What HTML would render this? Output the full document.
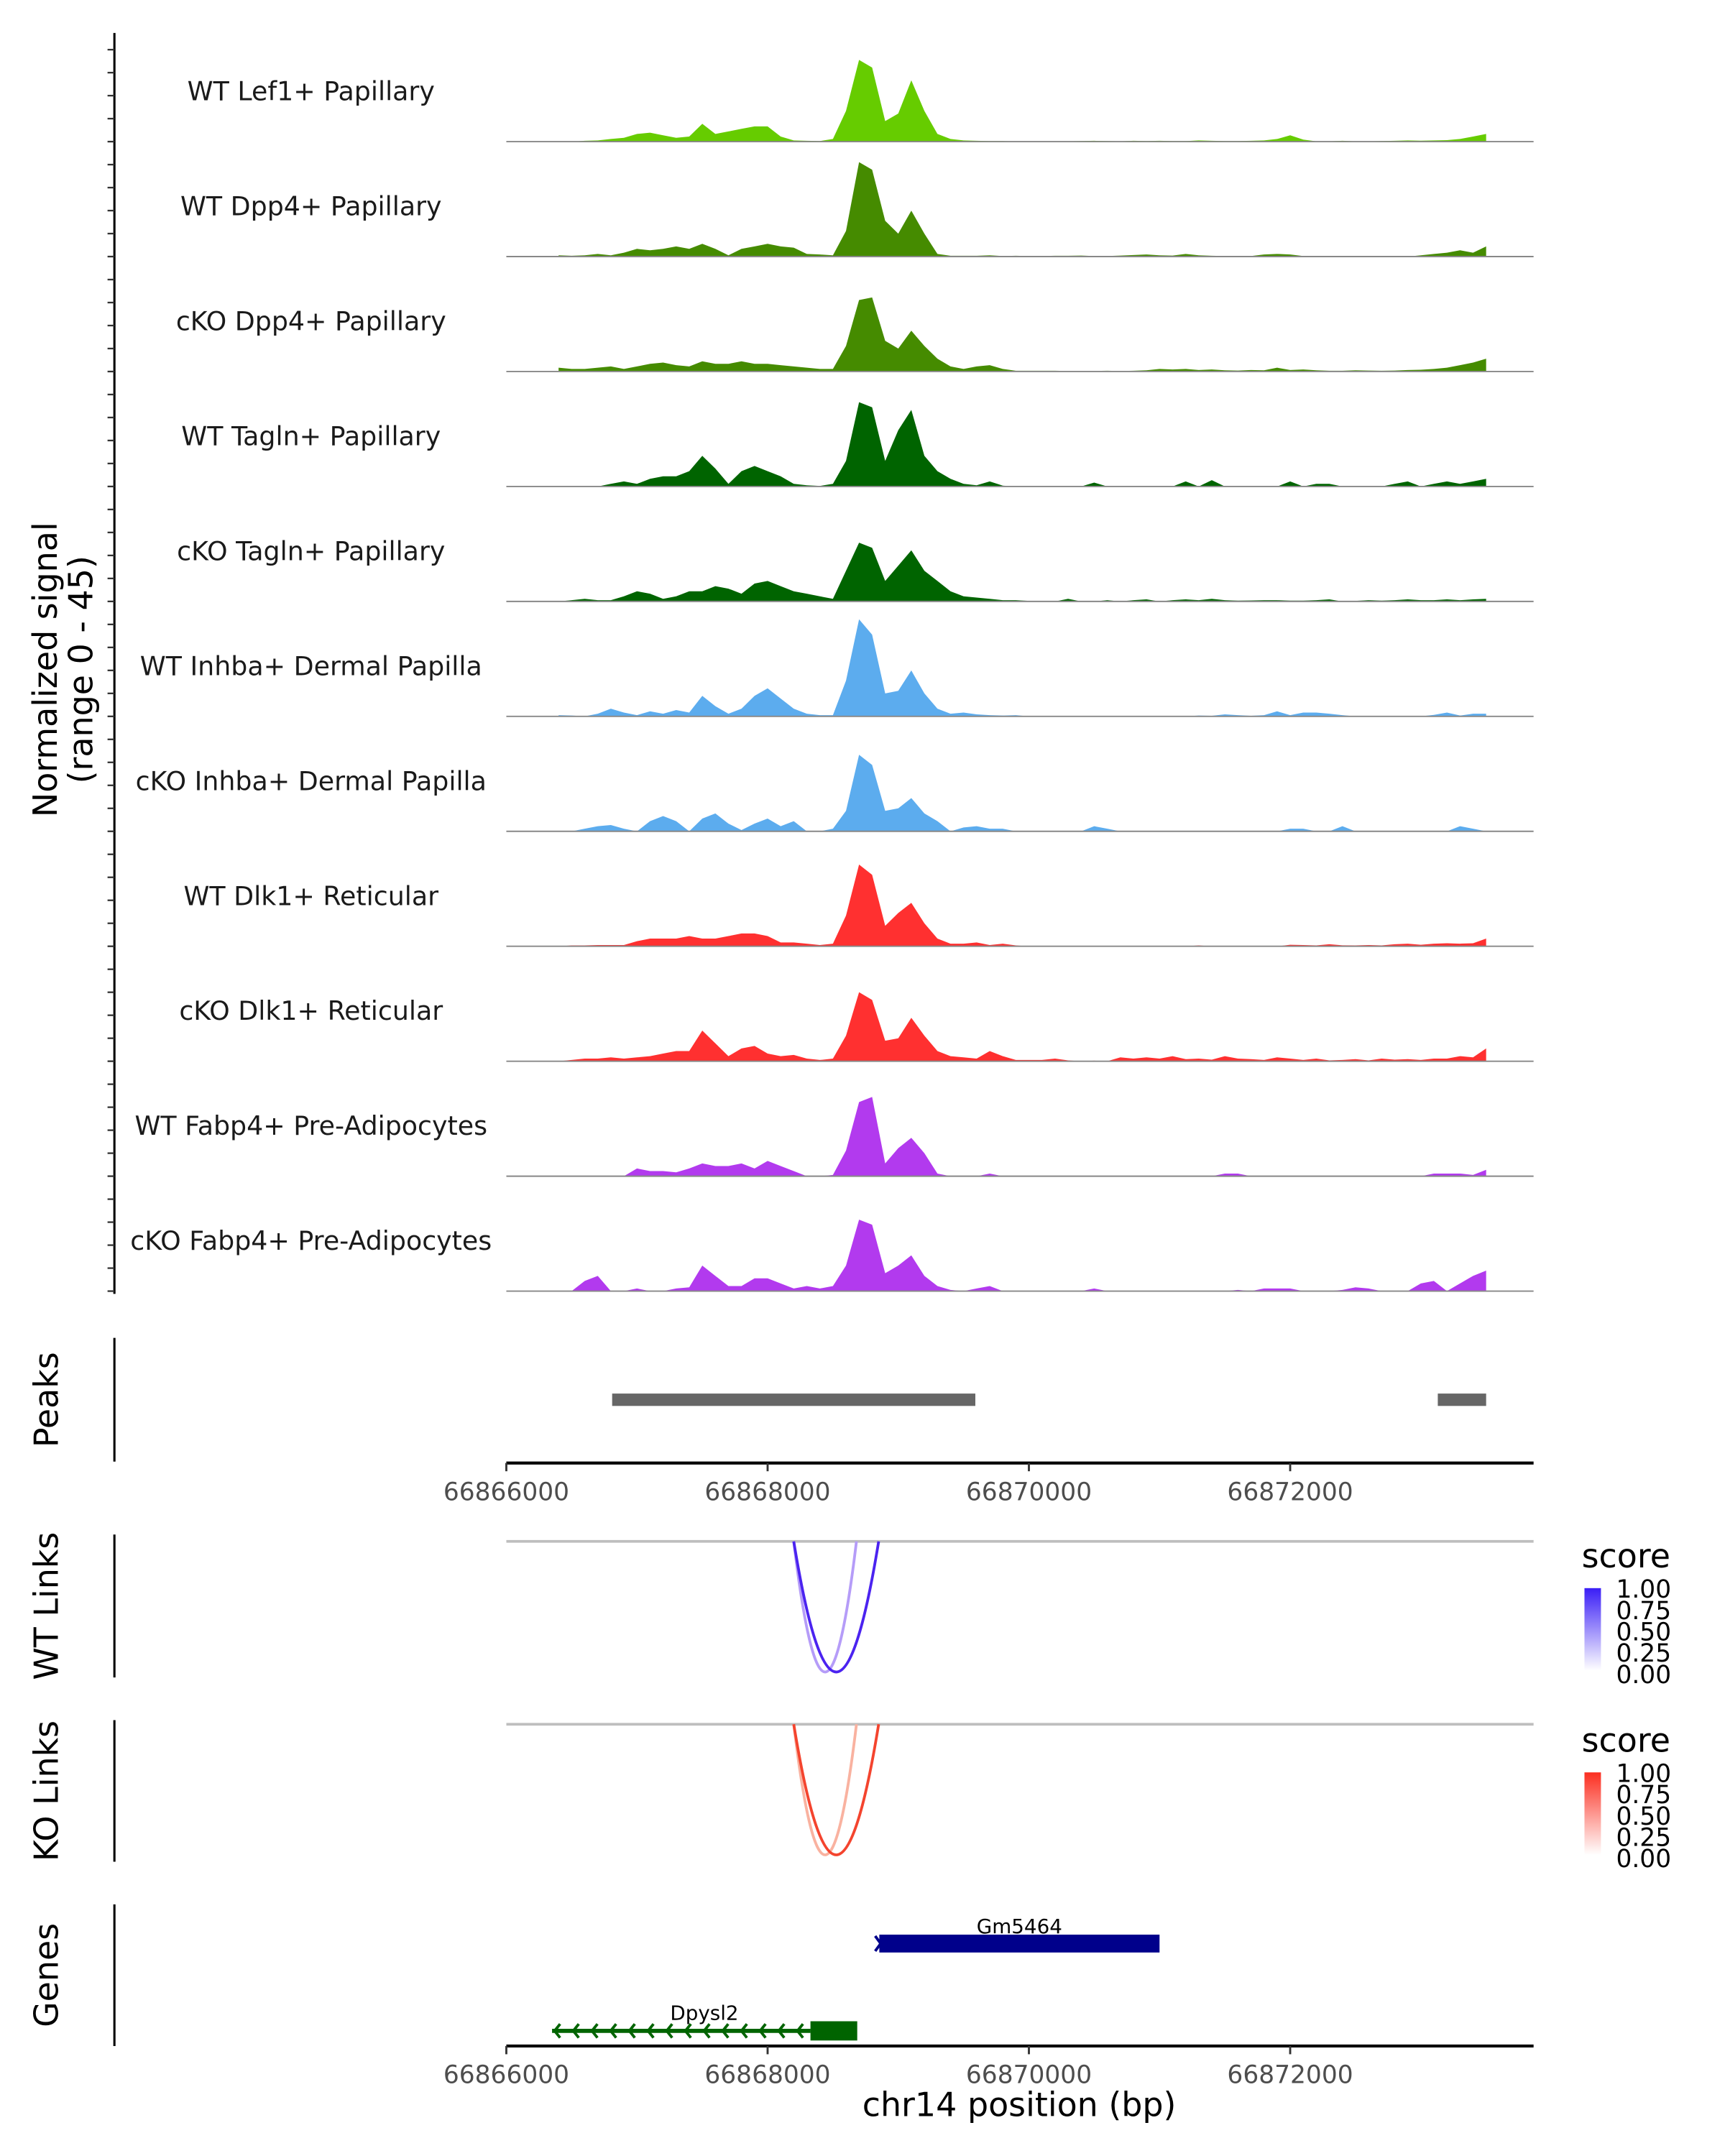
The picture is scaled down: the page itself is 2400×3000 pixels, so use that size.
<!DOCTYPE html>
<html><head><meta charset="utf-8"><style>
html,body{margin:0;padding:0;background:#fff;}
svg{display:block;font-family:"DejaVu Sans","Liberation Sans",sans-serif;}
</style></head><body>
<svg id="chart" width="2400" height="3000" viewBox="0 0 1254 1568" xmlns="http://www.w3.org/2000/svg">
<g id="tracks"></g>
<g id="overlay"></g>
</svg>
<script>
const trackNames = ["WT Lef1+ Papillary","WT Dpp4+ Papillary","cKO Dpp4+ Papillary","WT Tagln+ Papillary","cKO Tagln+ Papillary","WT Inhba+ Dermal Papilla","cKO Inhba+ Dermal Papilla","WT Dlk1+ Reticular","cKO Dlk1+ Reticular","WT Fabp4+ Pre-Adipocytes","cKO Fabp4+ Pre-Adipocytes"];
const trackColors = ["#66cc00","#458b00","#458b00","#006400","#006400","#5cacee","#5cacee","#ff3030","#ff3030","#b23aee","#b23aee"];
const binStart = 66866400;
const binSize = 100;
const sLef1WT = [0,0,0.3,0.5,1,1.5, 3,3.5,2.5,1.5,2, 7,3,4,5,6, 6,2,0.5,0.3,0.2, 1,12,32,29,8,11,24,12,3,1, 0.5,0.3,0.2,0.2,0.1, 0.1,0.1,0.1,0.1,0.2,0.3,0.2,0.1,0.3,0.2, 0.3,0.2,0.2,0.5,0.3,0.2,0.2,0.3,0.5,1, 2.5,0.8,0.1,0.1,0.3,0.1,0.1,0.2,0.3,0.5, 0.4,0.5,0.6,1,2,3];
const sDpp4WT = [0.5,0.3,0.5,1,0.5,1.5, 3,2.5,3,4,3, 5,3,0.5,3,4, 5,4,3.5,1,0.8, 0.5,10,37,34,14,9,18,9,1,0.3, 0.3,0.3,0.5,0.2,0.3, 0.2,0.2,0.3,0.3,0.4,0.2,0.2,0.4,0.6,0.8, 0.5,0.4,1,0.5,0.3,0.2,0.2,0.2,0.8,1, 0.8,0.2,0,0,0,0,0,0,0,0, 0.5,1,1.5,2.5,1.5,4];
const sDpp4KO = [1.5,1,1,1.5,2,1, 2,3,3.5,2.5,2, 4,3,3,4,3, 3,2.5,2,1.5,1, 1,10,28,29,12,9,16,10,5,2, 1,2,2.5,1,0.3, 0.3,0.3,0.3,0.2,0.2,0.2,0.3,0.2,0.3,0.5, 1,0.8,1,0.6,0.8,0.5,0.4,0.6,0.5,1.5, 0.6,0.8,0.5,0.3,0.3,0.5,0.4,0.3,0.4,0.6, 0.7,1,1.5,2.5,3.5,5];
const sTaglnWT = [0,0,0,0,1,2, 1,3,4,4,6, 12,7,1,6,8, 6,4,1,0.5,0.2, 1,10,33,31,10,22,30,12,6,3, 1,0.5,2,0.3,0, 0,0,0,0,0,1.5,0,0,0,0, 0,0,2,0,2.5,0,0,0,0,0, 2,0,1,1,0,0,0,0,1,2, 0,1,2,1,2,3];
const sTaglnKO = [0,0.5,1,0.5,0.5,2, 4,3,1,2,4, 4,6,5,3,7, 8,6,4,3,2, 1,12,23,21,8,14,20,12,8,4, 2,1.5,1,0.5,0.5, 0.2,0,0,1,0,0,0.5,0,0.5,0.8, 0,0.5,0.8,0.5,1,0.5,0.3,0.4,0.5,0.5, 0.3,0.3,0.5,0.8,0,0.2,0.5,0.3,0.5,0.8, 0.5,0.5,0.8,0.5,0.8,1];
const sInhbaWT = [0.5,0.3,0,1,3,1.5, 0.5,2,1,2.5,1.5, 8,4,1,3,8, 11,7,3,1,0.5, 0.5,14,38,32,9,10,18,9,3,1, 1.5,0.8,0.5,0.3,0.5, 0,0,0,0,0,0,0,0,0,0, 0,0,0,0.3,0.2,0.8,0.5,0.2,0.5,2, 0.5,1.5,1.5,1,0.5,0,0,0,0,0, 0,0.6,1.5,0.3,1,1];
const sInhbaKO = [0,0,1,2,2.5,1, 0,4,6,4,0, 5,7,3,0.5,3, 5,2,4,0,0, 1,8,30,26,8,9,13,7,4,0, 1.5,2,1,1,0, 0,0,0,0,0,2,1,0,0,0, 0,0,0,0,0,0,0,0,0,0, 1,1,0,0,2,0,0,0,0,0, 0,0,0,2,1,0];
const sDlk1WT = [0,0.3,0.3,0.5,0.5,0.5, 2,3,3,3,4, 3,3,4,5,5, 4,1.5,1.5,1,0.5, 1,12,32,28,8,13,17,9,3,1, 1,1.5,0.5,1,0.3, 0,0,0,0,0,0,0,0,0,0, 0,0,0,0.3,0,0,0,0,0,0, 0.6,0.5,0.3,0.8,0.4,0.3,0.5,0.3,0.8,1, 0.6,1,1.2,1,1.2,3];
const sDlk1KO = [0,0.5,1,1,1.5,1, 1.5,2,3,4,4, 12,7,2,5,6, 3,2,2.5,1,0.5, 1,10,27,24,8,9,17,10,4,2, 1.5,1,4,2,0.5, 0.5,0.5,1,0.3,0,0.2,0,1.5,1,1.5, 1,2,0.8,1,0.6,2,1,0.8,0.5,1.5, 1,0.5,1,0.3,0.5,0.8,0.3,1,0.6,0.8, 0.5,1,1,2,1.5,5];
const sFabp4WT = [0,0,0,0,0,0, 3,2,2,1.5,3, 5,4,4,5,3, 6,4,2,0,0, 0.5,10,29,31,5,11,15,9,1,0, 0,0,1,0,0, 0,0,0,0,0,0,0,0,0,0, 0,0,0,0,0,1,1,0,0,0, 0,0,0,0,0,0,0,0,0,0, 0,1,1,1,0.5,2.5];
const sFabp4KO = [0,0,4,6,0,0, 1,0,0,1,1.5, 10,6,2,2,5, 5,3,1,2,1, 2,10,28,26,7,10,14,6,2,0.5, 0,1,2,0,0, 0,0,0,0,0,1,0,0,0,0, 0,0,0,0,0,0,0.5,0,1,1, 1,0,0,0,0.5,1.5,1,0,0,0, 3,4,0,3,6,8];
const seriesValues = [sLef1WT,sDpp4WT,sDpp4KO,sTaglnWT,sTaglnKO,sInhbaWT,sInhbaKO,sDlk1WT,sDlk1KO,sFabp4WT,sFabp4KO];
const signalMax = 45;
const xTicks = [66866000,66868000,66870000,66872000];
const peakStarts = [66866810,66873130];
const peakEnds = [66869590,66873500];
const linkStarts = [66868200,66868200];
const linkEnds = [66868850,66868680];
const linkScores = [1.0,0.45];
const legendTicks = ["1.00","0.75","0.50","0.25","0.00"];
const geneNames = ["Gm5464","Dpysl2"];
const geneStarts = [66868855,66866350];
const geneEnds = [66871000,66868686];
const exonStarts = [66868855,66868328];

const NS="http://www.w3.org/2000/svg";
function mk(tag,attrs,parent){const e=document.createElementNS(NS,tag);for(const k in attrs)e.setAttribute(k,attrs[k]);parent.appendChild(e);return e;}
const X0=368,X1=1115,D0=66866000,PX=0.095;
function xs(p){return X0+(p-D0)*PX;}
const baseTop=103, trackH=83.6;
function ys(v,i){return baseTop+i*trackH - v*(trackH/signalMax);}
const tracks=document.getElementById('tracks');
const ov=document.getElementById('overlay');

let ax=mk('line',{x1:83,y1:24,x2:83,y2:941,stroke:'#000','stroke-width':1.6},tracks);


for(let y=baseTop+10*trackH; y>=26; y-=trackH/5){
  const t=mk('line',{x1:78,y1:y,x2:83,y2:y,stroke:'#333','stroke-width':1.2},tracks);
  
  
}
let yt=mk('text',{transform:'translate(41,487) rotate(-90)','text-anchor':'middle','font-size':24,fill:'#000'},tracks);


mk('tspan',{x:0,dy:0},yt).textContent='Normalized signal';
mk('tspan',{x:0,dy:26},yt).textContent='(range 0 - 45)';

seriesValues.forEach((vals,i)=>{
  const g=mk('g',{},tracks);
  
  
  const base=baseTop+i*trackH;
  let pts=[[xs(binStart),base]];
  vals.forEach((v,j)=>pts.push([xs(binStart+j*binSize),ys(v,i)]));
  pts.push([xs(binStart+(vals.length-1)*binSize),base]);
  const a=mk('polygon',{points:pts.map(p=>p[0].toFixed(1)+','+p[1].toFixed(1)).join(' '),fill:trackColors[i]},g);
  
  
  const bl=mk('line',{x1:X0,y1:base,x2:X1,y2:base,stroke:'#888','stroke-width':1},g);
  
  
  const lb=mk('text',{x:226,y:base-30,'text-anchor':'middle','font-size':19,fill:'#1a1a1a'},g);
  
  
  lb.textContent=trackNames[i];
});

function panelAxis(y1,y2,label,name){
  const l=mk('line',{x1:83,y1:y1,x2:83,y2:y2,stroke:'#000','stroke-width':1.6},ov);
  
  
  const t=mk('text',{transform:`translate(42,${(y1+y2)/2}) rotate(-90)`,'text-anchor':'middle','font-size':24,fill:'#000'},ov);
  
  
  t.textContent=label;
}
function xAxis(y,name){
  const l=mk('line',{x1:X0,y1:y,x2:X1,y2:y,stroke:'#000','stroke-width':2.2},ov);
  
  
  xTicks.forEach(v=>{
    const t=mk('line',{x1:xs(v),y1:y,x2:xs(v),y2:y+6,stroke:'#333','stroke-width':1.5},ov);
    
    
    const tl=mk('text',{x:xs(v),y:y+27,'text-anchor':'middle','font-size':18,fill:'#4d4d4d'},ov);
    
    
    tl.textContent=String(v);
  });
}
panelAxis(973,1063,'Peaks','peaks');
peakStarts.forEach((s,i)=>{
  const r=mk('rect',{x:xs(s),y:1013.5,width:xs(peakEnds[i])-xs(s),height:9,fill:'#666'},ov);
  
  
});
xAxis(1064,'peaks-x-axis');

function linkPanel(top,y1,y2,label,name,dark,light,legendY,grad){
  panelAxis(y1,y2,label,name);
  const gl=mk('line',{x1:X0,y1:top,x2:X1,y2:top,stroke:'#bebebe','stroke-width':2},ov);
  
  
  const depth=95;
  [1,0].forEach(k=>{
    const a=xs(linkStarts[k]),b=xs(linkEnds[k]);
    const cx=(a+b)/2, cy=top+2*depth;
    const p=mk('path',{d:`M${a},${top} Q${cx},${cy} ${b},${top}`,fill:'none',stroke:linkScores[k]>0.7?dark:light,'stroke-width':2},ov);
    
    
  });
  const lt=mk('text',{x:1150,y:legendY,'font-size':24,fill:'#000'},ov);
  
  
  lt.textContent='score';
  const bar=mk('rect',{x:1152,y:legendY+15,width:12,height:60,fill:`url(#${grad})`},ov);
  
  
  legendTicks.forEach((s,i)=>{
    const t=mk('text',{x:1175,y:legendY+22+i*15.5,'font-size':18,fill:'#000'},ov);
    
    
    t.textContent=s;
  });
}
const defs=mk('defs',{},ov);
[['gb','#3a1ef6'],['gr','#fb2e20']].forEach(([id,c])=>{
  const lg=mk('linearGradient',{id:id,x1:0,y1:0,x2:0,y2:1},defs);
  mk('stop',{offset:0,'stop-color':c},lg);
  mk('stop',{offset:1,'stop-color':'#ffffff'},lg);
});
linkPanel(1121,1116,1220,'WT Links','wt-links','#4b23f0','#b59cf8',1140,'gb');
linkPanel(1254,1251,1354,'KO Links','ko-links','#f4442e','#f9b2a0',1274,'gr');

panelAxis(1385,1488,'Genes','genes');
(function(){
  const g0=mk('rect',{x:xs(geneStarts[0]),y:1407,width:xs(geneEnds[0])-xs(geneStarts[0]),height:13,fill:'#00008b'},ov);
  
  
  const ch=mk('path',{d:`M${xs(geneStarts[0])-3},1408 l4,5.5 l-4,5.5`,fill:'none',stroke:'#00008b','stroke-width':2},ov);
  
  
  const t0=mk('text',{x:(xs(geneStarts[0])+xs(geneEnds[0]))/2,y:1406,'text-anchor':'middle','font-size':14.5,fill:'#000'},ov);
  
  
  t0.textContent=geneNames[0];
  const l1=mk('line',{x1:xs(geneStarts[1]),y1:1477,x2:xs(exonStarts[1]),y2:1477,stroke:'#006400','stroke-width':3},ov);
  
  
  const e1=mk('rect',{x:xs(exonStarts[1]),y:1470,width:xs(geneEnds[1])-xs(exonStarts[1]),height:14,fill:'#006400'},ov);
  
  
  for(let p=geneStarts[1]+30;p<exonStarts[1];p+=143){
    const c=mk('path',{d:`M${xs(p)+3},1472 l-4,5 l4,5`,fill:'none',stroke:'#006400','stroke-width':2},ov);
    
    
  }
  const t1=mk('text',{x:512,y:1469,'text-anchor':'middle','font-size':14.5,fill:'#000'},ov);
  
  
  t1.textContent=geneNames[1];
})();
xAxis(1488,'genes-x-axis');
const xt=mk('text',{x:741,y:1539,'text-anchor':'middle','font-size':24,fill:'#000'},ov);


xt.textContent='chr14 position (bp)';
</script>
</body></html>
